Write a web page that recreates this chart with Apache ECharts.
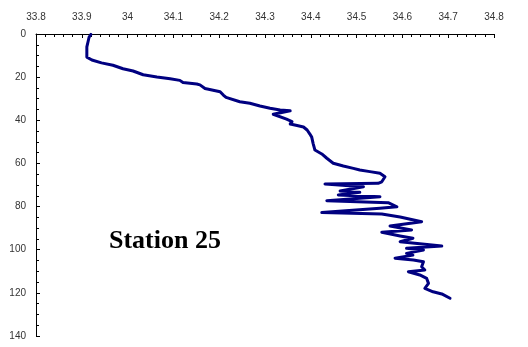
<!DOCTYPE html>
<html>
<head>
<meta charset="utf-8">
<script src="https://cdn.jsdelivr.net/npm/echarts@6/dist/echarts.min.js"></script>
<style>
html,body{margin:0;padding:0;background:#fff;}
#c{width:528px;height:347px;}
</style>
</head>
<body>
<div id="c"></div>
<script>
// Salinity (x) vs depth (y) for Station 25
var salinity = [33.920,33.916,33.914,33.911,33.911,33.911,33.922,33.943,33.968,33.990,
  34.012,34.034,34.064,34.093,34.114,34.121,34.151,34.158,34.169,34.202,
  34.209,34.215,34.245,34.267,34.289,34.311,34.333,34.355,34.318,34.347,
  34.359,34.355,34.370,34.384,34.392,34.398,34.402,34.405,34.409,34.424,
  34.435,34.449,34.471,34.493,34.507,34.529,34.551,34.562,34.555,34.547,
  34.431,34.515,34.464,34.507,34.460,34.551,34.435,34.569,34.588,34.551,
  34.424,34.555,34.595,34.642,34.573,34.620,34.555,34.595,34.623,34.595,
  34.686,34.609,34.646,34.609,34.623,34.584,34.624,34.646,34.642,34.649,
  34.613,34.638,34.653,34.657,34.649,34.667,34.686,34.704];
var depth = [0.2,1.4,3.25,6.0,8.8,10.7,12.05,13.4,14.5,16.1,
  17.15,18.9,19.9,20.7,21.5,22.5,23.2,23.6,25.3,26.75,
  28.3,29.4,31.4,32.1,33.4,34.4,35.2,35.6,37.2,39.5,
  40.6,41.7,42.4,43.1,44.5,46.4,47.8,50.7,53.8,55.6,
  57.6,59.9,61.2,62.3,63.05,63.8,64.6,66.2,68.5,69.2,
  69.5,70.8,72.8,73.4,74.6,75.4,77.3,78.2,80.1,80.8,
  82.8,83.4,84.8,87.0,89.0,90.9,91.9,93.6,94.7,96.3,
  98.3,99.35,100.1,101.7,102.5,104.0,104.8,105.6,107.9,109.4,
  110.2,111.7,113.3,115.6,117.9,119.5,120.5,122.5];
var stationLabel = "Station 25";

var pts = salinity.map(function(s,i){ return [s, depth[i]]; });
var chart = echarts.init(document.getElementById('c'), null, {renderer:'canvas'});
var labelFont = '"Liberation Sans Narrow","Liberation Sans",Arial,sans-serif';
chart.setOption({
  animation:false,
  backgroundColor:'#ffffff',
  grid:{left:36, top:34, width:458, height:302, containLabel:false},
  xAxis:{
    type:'value', position:'top', min:33.8, max:34.8, interval:0.1,
    axisLine:{show:true, onZero:false, lineStyle:{color:'#000', width:1}},
    axisTick:{show:true, inside:true, length:4, lineStyle:{color:'#000'}},
    minorTick:{show:true, splitNumber:5, length:3, lineStyle:{color:'#000'}},
    splitLine:{show:false},
    axisLabel:{fontSize:10, color:'#333', fontFamily:labelFont, margin:12,
      formatter:function(v){ return String(Math.round(v*10)/10); }}
  },
  yAxis:{
    type:'value', inverse:true, min:0, max:140, interval:20,
    axisLine:{show:true, onZero:false, lineStyle:{color:'#000', width:1}},
    axisTick:{show:true, inside:true, length:4, lineStyle:{color:'#000'}},
    minorTick:{show:true, splitNumber:4, length:3, lineStyle:{color:'#000'}},
    splitLine:{show:false},
    axisLabel:{fontSize:10, color:'#333', fontFamily:labelFont, margin:10}
  },
  series:[{
    type:'line', data:pts, showSymbol:false, symbol:'none',
    lineStyle:{color:'#000080', width:3, join:'round', cap:'round'}
  }],
  graphic:[{
    type:'text', left:109, top:228,
    style:{text:stationLabel, fill:'#000',
      font:'bold 26px "Liberation Serif","Times New Roman",serif'}
  }]
});
</script>
</body>
</html>
